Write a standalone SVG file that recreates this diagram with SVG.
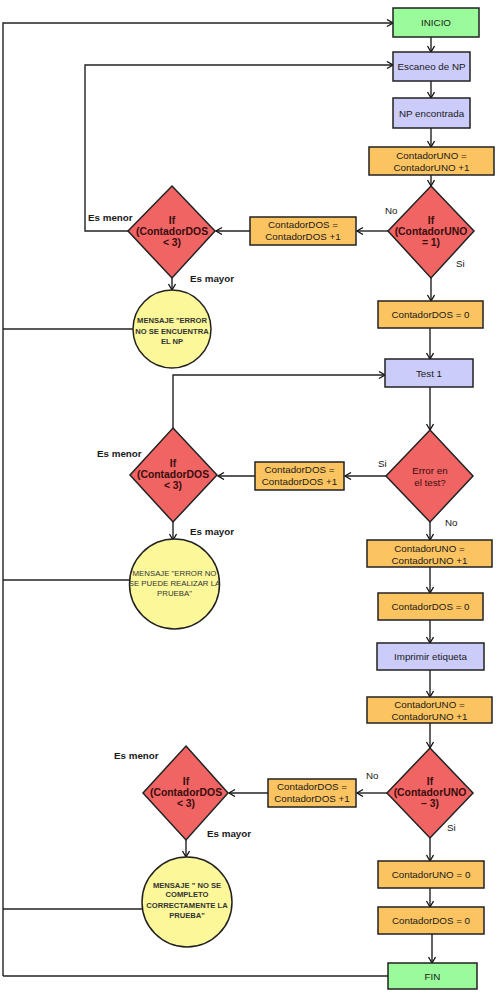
<svg xmlns="http://www.w3.org/2000/svg" width="498" height="1005" viewBox="0 0 498 1005">
<defs>
<marker id="arr" markerUnits="userSpaceOnUse" markerWidth="10" markerHeight="10" refX="7" refY="4" orient="auto">
<path d="M1,0.5 L7,4 L1,7.5" fill="none" stroke="#111" stroke-width="1.3"/>
</marker>
<style>
.box{stroke:#222;stroke-width:1.5}
.g{fill:#99fb99}
.p{fill:#ccccfb}
.o{fill:#fcc460}
.r{fill:#f06464}
.y{fill:#fcf89a}
text{font-family:"Liberation Sans",Arial,sans-serif;fill:#1a1a1a;text-anchor:middle}
.t{font-size:9.8px}
.d{font-size:10.4px;font-weight:bold;fill:#3a0d0d}
.c{font-size:7.8px;fill:#333}
.cb{font-size:7.6px;font-weight:bold;fill:#333}
.l{font-size:9.8px;text-anchor:start}
.lb{font-size:9.8px;font-weight:bold;text-anchor:start}
.e{stroke:#222;stroke-width:1.4;fill:none}
.a{stroke:#222;stroke-width:1.4;fill:none;marker-end:url(#arr)}
</style>
</defs>
<rect width="498" height="1005" fill="#fff"/>
<g id="connectors">
<path class="a" d="M431,37 V52"/>
<path class="a" d="M431,81 V98"/>
<path class="a" d="M431,128 V147"/>
<path class="a" d="M431,175 V186"/>
<path class="a" d="M388,231 H357"/>
<path class="a" d="M250,231 H216"/>
<path class="a" d="M128,231 H85 V65 H393"/>
<path class="a" d="M172,278 V290"/>
<path class="a" d="M431,278 V301"/>
<path class="a" d="M430,328 V359"/>
<path class="a" d="M430,387 V430"/>
<path class="a" d="M386,476 H345"/>
<path class="a" d="M255,476 H218"/>
<path class="a" d="M173,428 V375 H385"/>
<path class="a" d="M173,522 V540"/>
<path class="a" d="M430,522 V540"/>
<path class="a" d="M430,567 V593"/>
<path class="a" d="M430,620 V643"/>
<path class="a" d="M430,670 V697"/>
<path class="a" d="M430,723 V748"/>
<path class="a" d="M387,793 H357"/>
<path class="a" d="M268,793 H229"/>
<path class="a" d="M186,840 V857"/>
<path class="a" d="M430,838 V861"/>
<path class="a" d="M430,888 V907"/>
<path class="a" d="M432,934 V963"/>
<path class="e" d="M133,329 H3"/>
<path class="e" d="M129,580 H3"/>
<path class="e" d="M143,909 H3"/>
<path class="e" d="M388,976 H3"/>
<path class="a" d="M3,976 V23 H393"/>
</g>
<g id="inicio"><rect class="box g" x="393" y="8" width="86" height="29"/><text class="t" x="436" y="26">INICIO</text></g>
<g id="escaneo"><rect class="box p" x="393" y="52" width="77" height="29"/><text class="t" x="431.5" y="70">Escaneo de NP</text></g>
<g id="np-encontrada"><rect class="box p" x="393" y="98" width="77" height="30"/><text class="t" x="431.5" y="117">NP encontrada</text></g>
<g id="cuno1"><rect class="box o" x="369" y="147" width="125" height="28"/><text class="t" x="431.5" y="159">ContadorUNO =</text><text class="t" x="431.5" y="171">ContadorUNO +1</text></g>
<g id="if-uno1"><polygon class="box r" points="431,186 474,231 431,278 388,231"/><text class="d" x="431" y="224">If</text><text class="d" x="431" y="235">(ContadorUNO</text><text class="d" x="431" y="246">= 1)</text></g>
<g id="cdos-inc1"><rect class="box o" x="250" y="217" width="106" height="28"/><text class="t" x="303" y="228">ContadorDOS =</text><text class="t" x="303" y="240">ContadorDOS +1</text></g>
<g id="if-dos1"><polygon class="box r" points="172,186 215,231 172,278 128,231"/><text class="d" x="172" y="224">If</text><text class="d" x="172" y="235">(ContadorDOS</text><text class="d" x="172" y="246">&lt; 3)</text></g>
<g id="msg1"><circle class="box y" cx="172" cy="329" r="39"/><text class="cb" x="172" y="323">MENSAJE "ERROR</text><text class="cb" x="172" y="334">NO SE ENCUENTRA</text><text class="cb" x="172" y="344">EL  NP</text></g>
<g id="cdos0-1"><rect class="box o" x="378" y="301" width="105" height="27"/><text class="t" x="430.5" y="318">ContadorDOS = 0</text></g>
<g id="test1"><rect class="box p" x="385" y="359" width="88" height="28"/><text class="t" x="429" y="377">Test 1</text></g>
<g id="if-error"><polygon class="box r" points="430,430 473,476 430,522 386,476"/><text class="t" x="430" y="474" style="fill:#3a0d0d">Error en</text><text class="t" x="430" y="486" style="fill:#3a0d0d">el test?</text></g>
<g id="cdos-inc2"><rect class="box o" x="255" y="462" width="89" height="28"/><text class="t" x="299.5" y="473">ContadorDOS =</text><text class="t" x="299.5" y="485">ContadorDOS +1</text></g>
<g id="if-dos2"><polygon class="box r" points="173,428 217,475 173,522 130,475"/><text class="d" x="173" y="467">If</text><text class="d" x="173" y="478">(ContadorDOS</text><text class="d" x="173" y="489">&lt; 3)</text></g>
<g id="msg2"><circle class="box y" cx="174.5" cy="584" r="45"/><text class="c" x="174.5" y="576">MENSAJE "ERROR NO</text><text class="c" x="174.5" y="586">SE PUEDE REALIZAR LA</text><text class="c" x="174.5" y="596">PRUEBA"</text></g>
<g id="cuno2"><rect class="box o" x="367" y="540" width="125" height="27"/><text class="t" x="429.5" y="552">ContadorUNO =</text><text class="t" x="429.5" y="564">ContadorUNO +1</text></g>
<g id="cdos0-2"><rect class="box o" x="378" y="593" width="105" height="27"/><text class="t" x="430.5" y="610">ContadorDOS = 0</text></g>
<g id="imprimir"><rect class="box p" x="377" y="643" width="107" height="27"/><text class="t" x="430.5" y="660">Imprimir etiqueta</text></g>
<g id="cuno3"><rect class="box o" x="367" y="697" width="125" height="26"/><text class="t" x="429.5" y="708">ContadorUNO =</text><text class="t" x="429.5" y="720">ContadorUNO +1</text></g>
<g id="if-uno3"><polygon class="box r" points="430,748 473,793 430,838 387,793"/><text class="d" x="430" y="785">If</text><text class="d" x="430" y="796">(ContadorUNO</text><text class="d" x="430" y="807">– 3)</text></g>
<g id="cdos-inc3"><rect class="box o" x="268" y="779" width="88" height="28"/><text class="t" x="312" y="790">ContadorDOS =</text><text class="t" x="312" y="802">ContadorDOS +1</text></g>
<g id="if-dos3"><polygon class="box r" points="186,746 228,793 186,840 143,793"/><text class="d" x="186" y="785">If</text><text class="d" x="186" y="796">(ContadorDOS</text><text class="d" x="186" y="807">&lt; 3)</text></g>
<g id="msg3"><circle class="box y" cx="187" cy="902" r="45"/><text class="cb" x="187" y="888">MENSAJE " NO SE</text><text class="cb" x="187" y="897">COMPLETO</text><text class="cb" x="187" y="908">CORRECTAMENTE LA</text><text class="cb" x="187" y="918">PRUEBA"</text></g>
<g id="cuno0"><rect class="box o" x="378" y="861" width="106" height="27"/><text class="t" x="431" y="878">ContadorUNO = 0</text></g>
<g id="cdos0-3"><rect class="box o" x="378" y="907" width="106" height="27"/><text class="t" x="431" y="924">ContadorDOS = 0</text></g>
<g id="fin"><rect class="box g" x="388" y="963" width="89" height="26"/><text class="t" x="432.5" y="980">FIN</text></g>
<g id="labels">
<text class="lb" x="88" y="221">Es menor</text>
<text class="lb" x="190" y="282">Es mayor</text>
<text class="l" x="385" y="214">No</text>
<text class="l" x="456" y="267">Si</text>
<text class="lb" x="97" y="457">Es menor</text>
<text class="lb" x="190" y="535">Es mayor</text>
<text class="l" x="378" y="467">Si</text>
<text class="l" x="445" y="526">No</text>
<text class="lb" x="114" y="759">Es menor</text>
<text class="lb" x="207" y="837">Es mayor</text>
<text class="l" x="366" y="779">No</text>
<text class="l" x="447" y="831">Si</text>
</g>
</svg>
